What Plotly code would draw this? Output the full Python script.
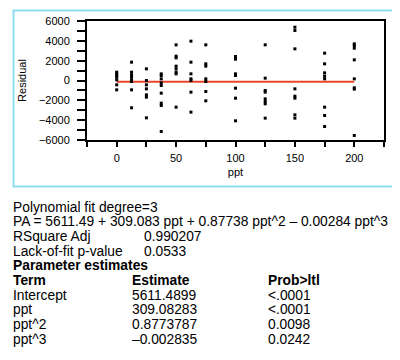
import plotly.graph_objects as go

# ---- data ----
ppt_levels = [0, 12.5, 25, 37.5, 50, 62.5, 75, 100, 125, 150, 175, 200]
residuals = [
    [840, 672, 504, 336, 67, -437, -941],
    [1848, 840, 571, 336, 67, -100, -941, -2755],
    [1176, 0, -437, -840, -1445, -1680, -3763],
    [672, 504, 168, -235, -504, -1277, -2285, -2520, -5140],
    [3595, 2453, 2285, 1445, 1176, 840, 672, -2688],
    [3965, 1848, 672, 168, 0, -1176, -3192],
    [3595, 1680, 1445, 168, -100, -1109, -2050],
    [2420, 2150, 672, 504, -773, -1781, -4066],
    [3595, 235, -1008, -1176, -1848, -2117, -2352, -3797],
    [5376, 5040, 3192, -840, -1579, -1781, -3461, -3797],
    [2755, 1680, 773, 437, 168, -2688, -3528, -4637],
    [3696, 3528, 3259, 2083, 168, -739, -873, -5544],
]
fit_x = [0, 200]
fit_y = [-120, -120]

x_ticks = [0, 50, 100, 150, 200]
y_ticks = [-6000, -4000, -2000, 0, 2000, 4000, 6000]

text_lines = [
    ("Polynomial fit degree=3", False),
    ("PA = 5611.49 + 309.083 ppt + 0.87738 ppt^2 \u2013 0.00284 ppt^3", False),
    ("RSquare Adj", False),
    ("Lack-of-fit p-value", False),
    ("Parameter estimates", True),
]
stat_values = ["", "", "0.990207", "0.0533", ""]
table_header = ["Term", "Estimate", "Prob>ltl"]
table_terms = ["Intercept", "ppt", "ppt^2", "ppt^3"]
table_estimates = ["5611.4899", "309.08283", "0.8773787", "\u20130.002835"]
table_probs = ["<.0001", "<.0001", "0.0098", "0.0242"]

# ---- layout geometry (pixels) ----
W, H = 400, 360
L, R, T, B = 79, 376, 13, 132

def px(x):
    return (x - L) / (R - L)

def py(y):
    return (B - y) / (B - T)

xs, ys = [], []
for lv, vals in zip(ppt_levels, residuals):
    for v in vals:
        xs.append(lv)
        ys.append(v)

FONT = "Liberation Sans, Arial, Helvetica, sans-serif"

fig = go.Figure()
fig.add_trace(go.Scatter(x=fit_x, y=fit_y, mode="lines",
                         line=dict(color="#e8452c", width=2), hoverinfo="skip"))
fig.add_trace(go.Scatter(x=xs, y=ys, mode="markers",
                         marker=dict(symbol="square", size=3, color="black"),
                         hoverinfo="skip"))

fig.update_layout(
    width=W, height=H,
    margin=dict(l=L, r=W - R, t=T, b=H - B, autoexpand=False),
    paper_bgcolor="white", plot_bgcolor="white",
    showlegend=False,
    font=dict(family=FONT, size=11, color="black"),
)
fig.update_xaxes(range=[-25, 225], tickvals=x_ticks, ticks="outside", ticklen=5,
                 tickwidth=1.5, tickcolor="black", showline=True, linewidth=2,
                 linecolor="black", mirror=True, showgrid=False, zeroline=False,
                 automargin=False, ticklabelstandoff=2,
                 minor=dict(dtick=25, tick0=0, ticks="outside", ticklen=5,
                            tickwidth=1.5, tickcolor="black"),
                 title=dict(text="ppt", font=dict(size=11), standoff=5),
                 tickfont=dict(size=11))
fig.update_yaxes(range=[-6000, 6000], tickvals=y_ticks, ticks="outside", ticklen=8,
                 tickwidth=1.5, tickcolor="black", showline=True, linewidth=2,
                 linecolor="black", mirror=True, showgrid=False, zeroline=False,
                 automargin=False, ticklabelstandoff=5,
                 minor=dict(dtick=1000, tick0=0, ticks="outside", ticklen=8,
                            tickwidth=1.5, tickcolor="black"),
                 title=dict(text="Residual", font=dict(size=11), standoff=10),
                 tickfont=dict(size=11))

# cyan frame around the chart
fig.add_shape(type="rect", xref="paper", yref="paper",
              x0=px(5.5), x1=px(392.5), y0=py(178.5), y1=py(2.5),
              line=dict(color="#8fdcf2", width=2), layer="below")

annos = []
LS = 14.7
top = 199
for i, ((txt, bold), val) in enumerate(zip(text_lines, stat_values)):
    yy = top + LS * i
    annos.append(dict(x=px(3), y=py(yy), text=("<b>%s</b>" % txt) if bold else txt))
    if val:
        annos.append(dict(x=px(134), y=py(yy), text=val))
cols = [3, 122, 258]
hy = top + LS * 5
for c, h in zip(cols, table_header):
    annos.append(dict(x=px(c), y=py(hy), text="<b>%s</b>" % h))
for i, (t, e, p) in enumerate(zip(table_terms, table_estimates, table_probs)):
    yy = hy + LS * (i + 1)
    for c, s in zip(cols, (t, e, p)):
        annos.append(dict(x=px(c), y=py(yy), text=s))
for a in annos:
    a.update(xref="paper", yref="paper", xanchor="left", yanchor="middle",
             showarrow=False, font=dict(family=FONT, size=13.8, color="black"))
fig.update_layout(annotations=annos)

fig.write_html("out.html")
